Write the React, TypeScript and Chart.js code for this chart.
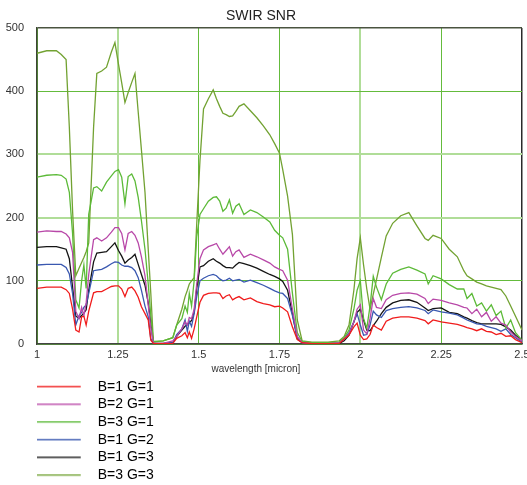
import React, { useEffect, useRef } from 'react';
import { Chart, registerables } from 'chart.js';

Chart.register(...registerables);

// wavelength grid [micron]
const wavelengths = [
  1.000, 1.030, 1.060, 1.075, 1.090, 1.100, 1.110, 1.120, 1.130, 1.138, 1.145, 1.152, 1.160, 1.175, 1.185, 1.200, 1.215, 1.230, 1.241, 1.252, 1.262, 1.272, 1.282, 1.293, 1.303, 1.313, 1.323, 1.334, 1.344, 1.352, 1.360, 1.390, 1.420, 1.432, 1.448, 1.458, 1.465, 1.471, 1.478, 1.486, 1.494, 1.504,
  1.515, 1.530, 1.545, 1.555, 1.565, 1.575, 1.585, 1.595, 1.605, 1.615, 1.625, 1.640, 1.660, 1.680, 1.700, 1.720, 1.735, 1.750, 1.760, 1.775, 1.790, 1.805, 1.820, 1.850, 1.900, 1.935,
  1.950, 1.965, 1.980, 1.990, 2.000, 2.010, 2.020, 2.030, 2.040, 2.050, 2.065, 2.080, 2.100, 2.125, 2.150, 2.175, 2.200, 2.210, 2.225, 2.250, 2.275, 2.300, 2.320, 2.330, 2.345, 2.360, 2.375, 2.390, 2.405, 2.420, 2.435, 2.450, 2.465, 2.480, 2.500,
];

const snrB1G1 = [
  88, 90, 90, 90, 86, 80, 55, 22, 19, 43, 44, 30, 52, 81, 83, 83, 87, 91, 92, 92, 87, 75, 88, 90, 84, 74, 59, 48, 38, 6, 1, 0.5, 1, 9, 13, 18, 10, 19, 9, 24, 43, 66,
  77, 80, 81, 81, 80, 72, 76, 78, 70, 73, 75, 70, 73, 67, 64, 62, 59, 60, 57, 51, 27, 7, 2, 0.5, 0.5, 1,
  8, 14, 27, 33, 14, 7, 8, 15, 30, 26, 22, 36, 41, 43, 43, 41, 37, 32, 38, 35, 33, 31, 28, 26, 24, 21, 24, 20, 19, 15, 17, 12, 13, 7, 2,
];

const snrB2G1 = [
  177, 179, 178, 178, 174, 168, 145, 52, 40, 58, 45, 65, 110, 165, 168, 163, 168, 177, 184, 184, 175, 149, 175, 178, 172, 160, 138, 108, 62, 25, 1, 1, 5, 12, 24, 35, 30, 42, 40, 55, 95, 135,
  149, 154, 157, 159, 150, 142, 148, 154, 139, 146, 149, 137, 142, 138, 133, 128, 122, 118, 116, 101, 55, 12, 2, 0.5, 0.5, 2,
  8, 16, 35, 55, 62, 22, 16, 40, 72, 58, 56, 70, 77, 80, 81, 79, 72, 64, 71, 69, 65, 62, 58, 57, 48, 55, 43, 50, 36, 43, 33, 30, 19, 12, 5,
];

const snrB3G1 = [
  264, 267, 268, 267, 261, 240, 175, 70, 57, 100, 125, 88, 205, 247, 249, 242, 256, 266, 273, 276, 264, 222, 265, 269, 258, 232, 195, 150, 95, 45, 4, 5, 10, 30, 40, 60, 50, 80, 60, 100, 170, 205,
  214, 226, 232, 233, 226, 210, 215, 228, 207, 218, 222, 205, 212, 208, 201, 193, 180, 172, 168, 150, 80, 18, 4, 2, 2, 3,
  10, 22, 55, 85, 100, 40, 25, 60, 107, 90, 70, 95, 112, 118, 122, 117, 111, 95, 108, 103, 94, 87, 87, 72, 80, 60, 65, 52, 62, 45, 52, 25, 38, 18, 6,
];

const snrB1G2 = [
  125, 126, 126, 126, 121, 111, 80, 30, 45, 50, 58, 62, 80, 116, 117, 118, 122, 127, 130, 129, 125, 123, 123, 121, 116, 105, 85, 60, 43, 8, 1, 0.5, 2, 15, 24, 38, 20, 36, 28, 48, 75, 100,
  104, 108, 110, 108, 103, 100, 101, 104, 100, 101, 102, 98, 101, 97, 93, 88, 84, 81, 80, 72, 45, 10, 2, 0.5, 0.5, 2,
  8, 18, 35, 48, 30, 14, 15, 30, 52, 46, 42, 53, 56, 58, 59, 57, 53, 48, 54, 51, 49, 46, 41, 38, 35, 32, 31, 28, 26, 24, 20, 24, 15, 10, 3,
];

const snrB1G3 = [
  153, 154, 154, 152, 150, 135, 90, 44, 41, 45, 49, 54, 85, 130, 144, 145, 146, 154, 160, 148, 139, 128, 133, 137, 142, 126, 110, 93, 65, 33, 1, 1, 2, 12, 22, 28, 31, 34, 37, 50, 88, 122,
  124, 131, 135, 131, 128, 124, 121, 121, 120, 125, 129, 127, 124, 120, 115, 110, 107, 103, 99, 85, 48, 8, 2, 0.5, 0.5, 1,
  5, 14, 35, 50, 55, 38, 22, 21, 29, 36, 48, 58, 65, 69, 70, 66, 57, 53, 56, 57, 50, 48, 43, 41, 37, 34, 32, 32, 32, 32, 31, 27, 22, 14, 6,
];

const snrB3G3 = [
  460, 464, 464, 458, 450, 343, 211, 108, 120, 129, 137, 146, 160, 343, 428, 432, 438, 462, 477, 443, 413, 382, 398, 414, 428, 367, 307, 240, 150, 80, 3, 5, 10, 30, 55, 75, 85, 95, 100, 105, 190, 290,
  372, 388, 402, 388, 376, 365, 363, 360, 361, 368, 376, 380, 369, 358, 345, 331, 317, 302, 276, 234, 173, 38, 5, 3, 3, 5,
  12, 30, 85, 135, 168, 125, 87, 55, 79, 102, 137, 171, 191, 203, 208, 187, 167, 164, 172, 167, 150, 138, 116, 108, 103, 98, 95, 92, 90, 88, 86, 76, 60, 44, 22,
];

const seriesNames = ['B=1 G=1', 'B=2 G=1', 'B=3 G=1', 'B=1 G=2', 'B=1 G=3', 'B=3 G=3'];
const seriesColors = ['#f01c1c', '#b848a8', '#5cba38', '#3a58b0', '#141414', '#72a232'];

const xTickLabels = ['1', '1.25', '1.5', '1.75', '2', '2.25', '2.5'];
const yTickLabels = ['0', '100', '200', '300', '400', '500'];

const FONT = "'Liberation Sans', Arial, sans-serif";
const DARK_GRID = '#64bb3c';
const LIGHT_GRID = '#b0dd98';

export default function App() {
  const ref = useRef<HTMLCanvasElement>(null);

  useEffect(() => {
    const canvas = ref.current;
    if (!canvas) return;
    const series = [snrB1G1, snrB2G1, snrB3G1, snrB1G2, snrB1G3, snrB3G3];

    const legendImgs = seriesColors.map((c) => {
      const cv = document.createElement('canvas');
      cv.width = 58;
      cv.height = 4;
      const g = cv.getContext('2d')!;
      g.globalAlpha = 0.85;
      g.fillStyle = c;
      g.fillRect(0, 1, 44, 1.6);
      return cv;
    });
    const pad = ' '.repeat(40);

    const chart = new Chart(canvas, {
      type: 'line',
      data: {
        datasets: series.map((s, i) => ({
          label: seriesNames[i],
          data: wavelengths.map((w, j) => ({ x: w, y: s[j] })),
          borderColor: seriesColors[i],
          backgroundColor: seriesColors[i],
          borderWidth: 1.3,
          pointRadius: 0,
          fill: false,
          tension: 0,
        })),
      },
      options: {
        responsive: false,
        animation: false,
        layout: { padding: { left: 0, right: 5, top: 0, bottom: 7.8 } },
        plugins: {
          title: {
            display: true,
            text: 'SWIR SNR',
            color: '#222',
            font: { family: FONT, size: 14, weight: 'normal' },
            padding: { top: 8, bottom: 3.2 },
          },
          legend: {
            display: true,
            position: 'bottom',
            align: 'start',
            fullSize: false,
            labels: {
              usePointStyle: true,
              pointStyleWidth: 50,
              padding: 3.7,
              color: '#333',
              font: { family: FONT, size: 14 },
              generateLabels: (ch: any) =>
                ch.data.datasets.map((ds: any, i: number) => ({
                  text: seriesNames[i] + pad,
                  fillStyle: ds.borderColor,
                  strokeStyle: ds.borderColor,
                  lineWidth: 0,
                  pointStyle: legendImgs[i],
                  hidden: false,
                  datasetIndex: i,
                })),
            },
          },
          tooltip: { enabled: false },
        },
        scales: {
          x: {
            type: 'linear',
            min: 1,
            max: 2.5,
            border: { color: '#444', width: 1.5 },
            grid: {
              drawTicks: false,
              color: (ctx: any) => {
                const v = ctx.tick ? ctx.tick.value : null;
                if (v === 2.5) return '#2a2a2a';
                if (v === 1.25 || v === 2) return LIGHT_GRID;
                return DARK_GRID;
              },
              lineWidth: (ctx: any) => {
                const v = ctx.tick ? ctx.tick.value : null;
                if (v === 2.5) return 1.5;
                if (v === 1.25 || v === 2) return 2;
                return 1;
              },
            },
            ticks: {
              stepSize: 0.25,
              padding: 4,
              maxRotation: 0,
              autoSkip: false,
              color: '#333',
              font: { family: FONT, size: 11 },
              callback: (v: any, i: number) => xTickLabels[i] ?? String(v),
            },
            title: {
              display: true,
              text: 'wavelength [micron]' + ' '.repeat(17),
              color: '#333',
              font: { family: FONT, size: 10 },
              padding: { top: 0, bottom: 1 },
            },
            afterFit: (scale: any) => {
              scale.height = 32;
              scale.paddingLeft = 0;
              scale.paddingRight = 0;
            },
          },
          y: {
            type: 'linear',
            min: 0,
            max: 500,
            border: { color: '#3d4535', width: 1.5 },
            grid: {
              drawTicks: false,
              color: (ctx: any) => {
                const v = ctx.tick ? ctx.tick.value : null;
                if (v === 500) return '#4a5440';
                if (v === 200 || v === 300) return LIGHT_GRID;
                return DARK_GRID;
              },
              lineWidth: (ctx: any) => {
                const v = ctx.tick ? ctx.tick.value : null;
                if (v === 500) return 1.5;
                if (v === 200 || v === 300) return 2;
                return 1;
              },
            },
            ticks: {
              stepSize: 100,
              padding: 13,
              color: '#333',
              font: { family: FONT, size: 11 },
              callback: (v: any, i: number) => yTickLabels[i] ?? String(v),
            },
            afterFit: (scale: any) => {
              scale.width = 37;
              scale.paddingTop = 0;
              scale.paddingBottom = 0;
            },
          },
        },
      } as any,
    });
    return () => chart.destroy();
  }, []);

  return (
    <div style={{ position: 'absolute', left: 0, top: 0, width: 527, height: 485, overflow: 'hidden' }}>
      <canvas ref={ref} width={527} height={500} style={{ display: 'block' }} />
    </div>
  );
}
